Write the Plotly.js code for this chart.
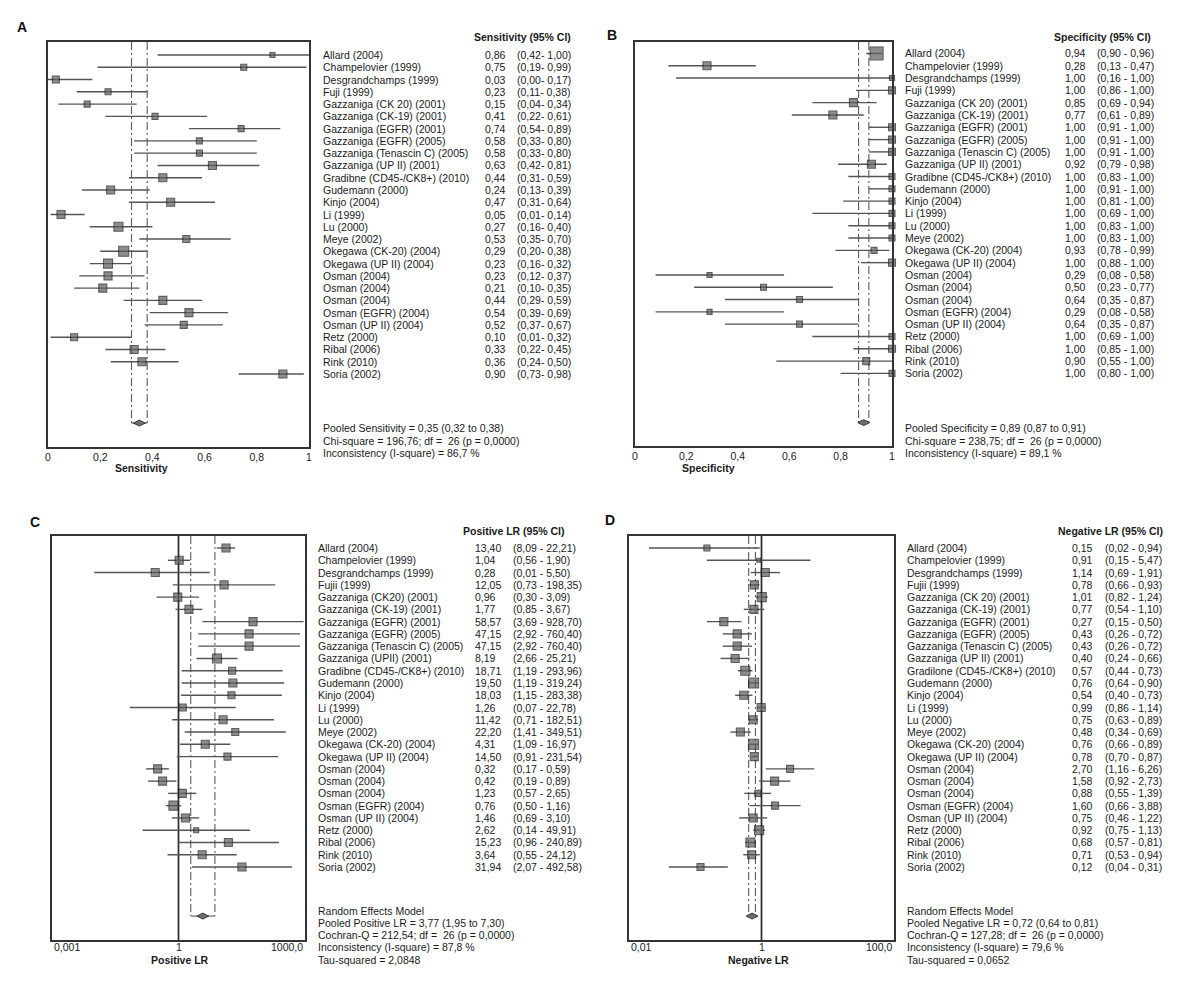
<!DOCTYPE html>
<html><head><meta charset="utf-8">
<script src="https://cdn.plot.ly/plotly-3.0.1.min.js"></script>
<style>html,body{margin:0;padding:0;background:#fff}#chart{width:1200px;height:998px}</style>
</head><body><div id="chart"></div>
<script>
// ---------- DATA ----------
const namesAB = ["Allard (2004)","Champelovier (1999)","Desgrandchamps (1999)","Fuji (1999)","Gazzaniga (CK 20) (2001)","Gazzaniga (CK-19) (2001)","Gazzaniga (EGFR) (2001)","Gazzaniga (EGFR) (2005)","Gazzaniga (Tenascin C) (2005)","Gazzaniga (UP II) (2001)","Gradibne (CD45-/CK8+) (2010)","Gudemann (2000)","Kinjo (2004)","Li (1999)","Lu (2000)","Meye (2002)","Okegawa (CK-20) (2004)","Okegawa (UP II) (2004)","Osman (2004)","Osman (2004)","Osman (2004)","Osman (EGFR) (2004)","Osman (UP II) (2004)","Retz (2000)","Ribal (2006)","Rink (2010)","Soria (2002)"];
const namesC = ["Allard (2004)","Champelovier (1999)","Desgrandchamps (1999)","Fujii (1999)","Gazzaniga (CK20) (2001)","Gazzaniga (CK-19) (2001)","Gazzaniga (EGFR) (2001)","Gazzaniga (EGFR) (2005)","Gazzaniga (Tenascin C) (2005)","Gazzaniga (UPII) (2001)","Gradibne (CD45-/CK8+) (2010)","Gudemann (2000)","Kinjo (2004)","Li (1999)","Lu (2000)","Meye (2002)","Okegawa (CK-20) (2004)","Okegawa (UP II) (2004)","Osman (2004)","Osman (2004)","Osman (2004)","Osman (EGFR) (2004)","Osman (UP II) (2004)","Retz (2000)","Ribal (2006)","Rink (2010)","Soria (2002)"];
const namesD = ["Allard (2004)","Champelovier (1999)","Desgrandchamps (1999)","Fujii (1999)","Gazzaniga (CK 20) (2001)","Gazzaniga (CK-19) (2001)","Gazzaniga (EGFR) (2001)","Gazzaniga (EGFR) (2005)","Gazzaniga (Tenascin C) (2005)","Gazzaniga (UP II) (2001)","Gradilone (CD45-/CK8+) (2010)","Gudemann (2000)","Kinjo (2004)","Li (1999)","Lu (2000)","Meye (2002)","Okegawa (CK-20) (2004)","Okegawa (UP II) (2004)","Osman (2004)","Osman (2004)","Osman (2004)","Osman (EGFR) (2004)","Osman (UP II) (2004)","Retz (2000)","Ribal (2006)","Rink (2010)","Soria (2002)"];

const sensEst = [0.86,0.75,0.03,0.23,0.15,0.41,0.74,0.58,0.58,0.63,0.44,0.24,0.47,0.05,0.27,0.53,0.29,0.23,0.23,0.21,0.44,0.54,0.52,0.10,0.33,0.36,0.90];
const sensLo  = [0.42,0.19,0.00,0.11,0.04,0.22,0.54,0.33,0.33,0.42,0.31,0.13,0.31,0.01,0.16,0.35,0.20,0.16,0.12,0.10,0.29,0.39,0.37,0.01,0.22,0.24,0.73];
const sensHi  = [1.00,0.99,0.17,0.38,0.34,0.61,0.89,0.80,0.80,0.81,0.59,0.39,0.64,0.14,0.40,0.70,0.38,0.32,0.37,0.35,0.59,0.69,0.67,0.32,0.45,0.50,0.98];
const sensWeight = [5,6,7,6,6,6,6,6,6,8,8,8,8,8,9,7,10,9,8,8,8,8,7,7,8,8,8];

const specEst = [0.94,0.28,1.00,1.00,0.85,0.77,1.00,1.00,1.00,0.92,1.00,1.00,1.00,1.00,1.00,1.00,0.93,1.00,0.29,0.50,0.64,0.29,0.64,1.00,1.00,0.90,1.00];
const specLo  = [0.90,0.13,0.16,0.86,0.69,0.61,0.91,0.91,0.91,0.79,0.83,0.91,0.81,0.69,0.83,0.83,0.78,0.88,0.08,0.23,0.35,0.08,0.35,0.69,0.85,0.55,0.80];
const specHi  = [0.96,0.47,1.00,1.00,0.94,0.89,1.00,1.00,1.00,0.98,1.00,1.00,1.00,1.00,1.00,1.00,0.99,1.00,0.58,0.77,0.87,0.58,0.87,1.00,1.00,1.00,1.00];
const specWeight = [13,8,5,7,8,8,7,7,7,8,6,6,6,6,6,6,6,7,5,6,6,5,6,6,7,7,6];

const plrEst = [13.40,1.04,0.28,12.05,0.96,1.77,58.57,47.15,47.15,8.19,18.71,19.50,18.03,1.26,11.42,22.20,4.31,14.50,0.32,0.42,1.23,0.76,1.46,2.62,15.23,3.64,31.94];
const plrLo  = [8.09,0.56,0.01,0.73,0.30,0.85,3.69,2.92,2.92,2.66,1.19,1.19,1.15,0.07,0.71,1.41,1.09,0.91,0.17,0.19,0.57,0.50,0.69,0.14,0.96,0.55,2.07];
const plrHi  = [22.21,1.90,5.50,198.35,3.09,3.67,928.70,760.40,760.40,25.21,293.96,319.24,283.38,22.78,182.51,349.51,16.97,231.54,0.59,0.89,2.65,1.16,3.10,49.91,240.89,24.12,492.58];
const plrWeight = [8,8,8,8,8,8,8,8,8,9,7,8,7,7,8,7,8,7,8,8,8,9,8,5,8,8,8];

const nlrEst = [0.15,0.91,1.14,0.78,1.01,0.77,0.27,0.43,0.43,0.40,0.57,0.76,0.54,0.99,0.75,0.48,0.76,0.78,2.70,1.58,0.88,1.60,0.75,0.92,0.68,0.71,0.12];
const nlrLo  = [0.02,0.15,0.69,0.66,0.82,0.54,0.15,0.26,0.26,0.24,0.44,0.64,0.40,0.86,0.63,0.34,0.66,0.70,1.16,0.92,0.55,0.66,0.46,0.75,0.57,0.53,0.04];
const nlrHi  = [0.94,5.47,1.91,0.93,1.24,1.10,0.50,0.72,0.72,0.66,0.73,0.90,0.73,1.14,0.89,0.69,0.89,0.87,6.26,2.73,1.39,3.88,1.22,1.13,0.81,0.94,0.31];
const nlrWeight = [6,4,8,8,9,8,8,8,8,8,9,10,8,8,8,8,10,8,7,8,6,7,8,9,9,8,7];

const pooledSens = [0.35,0.32,0.38];
const pooledSpec = [0.89,0.87,0.91];
const pooledPLR  = [3.77,1.95,7.30];
const pooledNLR  = [0.72,0.64,0.81];

const statsA = ["Pooled Sensitivity = 0,35 (0,32 to 0,38)","Chi-square = 196,76; df =  26 (p = 0,0000)","Inconsistency (I-square) = 86,7 %"];
const statsB = ["Pooled Specificity = 0,89 (0,87 to 0,91)","Chi-square = 238,75; df =  26 (p = 0,0000)","Inconsistency (I-square) = 89,1 %"];
const statsC = ["Random Effects Model","Pooled Positive LR = 3,77 (1,95 to 7,30)","Cochran-Q = 212,54; df =  26 (p = 0,0000)","Inconsistency (I-square) = 87,8 %","Tau-squared = 2,0848"];
const statsD = ["Random Effects Model","Pooled Negative LR = 0,72 (0,64 to 0,81)","Cochran-Q = 127,28; df =  26 (p = 0,0000)","Inconsistency (I-square) = 79,6 %","Tau-squared = 0,0652"];

const linTicks = [0,0.2,0.4,0.6,0.8,1];
const linTickText = ["0","0,2","0,4","0,6","0,8","1"];
const plrTicks = [0.001,1,1000]; const plrTickText = ["0,001","1","1000,0"];
const nlrTicks = [0.01,1,100];   const nlrTickText = ["0,01","1","100,0"];

// ---------- LAYOUT HELPERS ----------
const W = 1200, H = 998;
const px = x => x / W, py = y => 1 - y / H;
const FONT = "Liberation Sans, Arial, sans-serif";
const FS = 10.5;
const fmt = v => v.toFixed(2).replace('.', ',');

const panels = [
  {ax:'', names:namesAB, est:sensEst, lo:sensLo, hi:sensHi, w:sensWeight, pooled:pooledSens, log:false,
   range:[0,1], ticks:linTicks, tickText:linTickText, xd:[48,309], yd:[42,447], yr:[31.95,-1.06],
   nameX:321, valX:483, ciX:515, hdrX:472, hdrY:37, header:'Sensitivity (95% CI)', sep:'- ',
   stats:statsA, statsX:321, statsY:[428,441,453], title:'Sensitivity', titleX:141, titleY:468,
   letter:'A', letterX:22, letterY:27},
  {ax:'2', names:namesAB, est:specEst, lo:specLo, hi:specHi, w:specWeight, pooled:pooledSpec, log:false,
   range:[0,1], ticks:linTicks, tickText:linTickText, xd:[635,892], yd:[42,446], yr:[31.9,-0.93],
   nameX:903, valX:1063, ciX:1095, hdrX:1052, hdrY:37, header:'Specificity (95% CI)', sep:' - ',
   stats:statsB, statsX:903, statsY:[428,441,453], title:'Specificity', titleX:708, titleY:468,
   letter:'B', letterX:612, letterY:35},
  {ax:'3', names:namesC, est:plrEst, lo:plrLo, hi:plrHi, w:plrWeight, pooled:pooledPLR, log:true,
   range:[-3,3], ticks:plrTicks, tickText:plrTickText, xd:[52,305], yd:[536,940], yr:[31.95,-0.98],
   nameX:316, valX:473, ciX:511, hdrX:461, hdrY:531, header:'Positive LR (95% CI)', sep:' - ',
   stats:statsC, statsX:316, statsY:[911,923,935,947,960], title:'Positive LR', titleX:180, titleY:960,
   letter:'C', letterX:35, letterY:522},
  {ax:'4', names:namesD, est:nlrEst, lo:nlrLo, hi:nlrHi, w:nlrWeight, pooled:pooledNLR, log:true,
   range:[-2,2], ticks:nlrTicks, tickText:nlrTickText, xd:[629,894], yd:[536,940], yr:[31.95,-0.98],
   nameX:905, valX:1070, ciX:1103, hdrX:1056, hdrY:531, header:'Negative LR (95% CI)', sep:' - ',
   stats:statsD, statsX:905, statsY:[911,923,935,947,960], title:'Negative LR', titleX:759, titleY:960,
   letter:'D', letterX:610, letterY:520}
];

const traces = [], annotations = [], layout = {
  width: W, height: H, margin:{l:0,r:0,t:0,b:0}, showlegend:false,
  paper_bgcolor:'#fff', plot_bgcolor:'#fff', separators:', ',
  font:{family:FONT, size:FS, color:'#1a1a1a'}
};
const DIAMOND_ROW = 30;

panels.forEach(p => {
  const xa = 'x' + p.ax, ya = 'y' + p.ax;
  const rows = p.est.map((_, i) => i);
  const [pe, plo, phi] = p.pooled;
  const top = p.yr[1], bot = p.yr[0];

  layout['xaxis' + p.ax] = {
    domain:[px(p.xd[0]), px(p.xd[1])], anchor: ya, type: p.log ? 'log' : 'linear',
    range: p.range, showgrid:false, zeroline:false, showline:true, mirror:true,
    linecolor:'#333', linewidth:1.6, ticks:'', fixedrange:true,
    tickvals: p.ticks, ticktext: p.tickText, showticklabels: !p.log,
    tickfont:{family:FONT, size:FS, color:'#1a1a1a'}
  };
  layout['yaxis' + p.ax] = {
    domain:[py(p.yd[1]), py(p.yd[0])], anchor: xa, range: p.yr,
    showgrid:false, zeroline:false, showline:true, mirror:true,
    linecolor:'#333', linewidth:1.6, ticks:'', showticklabels:false, fixedrange:true
  };

  if (p.log) {
    traces.push({type:'scatter', mode:'lines', xaxis:xa, yaxis:ya, x:[1,1], y:[top,bot],
      line:{color:'#2a2a2a', width:1.7}, hoverinfo:'skip'});
  }
  // pooled CI dashed lines
  traces.push({type:'scatter', mode:'lines', xaxis:xa, yaxis:ya,
    x:[plo,plo,null,phi,phi], y:[top,DIAMOND_ROW,null,top,DIAMOND_ROW],
    line:{color:'#5a5a5a', width:1.1, dash:'8px,3px,2px,3px'}, hoverinfo:'skip'});
  traces.push({type:'scatter', mode:'lines', xaxis:xa, yaxis:ya,
    x:[plo,phi], y:[DIAMOND_ROW,DIAMOND_ROW],
    line:{color:'#5a5a5a', width:1.1}, hoverinfo:'skip'});
  // studies
  traces.push({type:'scatter', mode:'markers', xaxis:xa, yaxis:ya, x:p.est, y:rows,
    cliponaxis:false,
    error_x:{type:'data', symmetric:false,
      array:p.est.map((v,i)=>p.hi[i]-v), arrayminus:p.est.map((v,i)=>v-p.lo[i]),
      width:0, color:'#555', thickness:1.4},
    marker:{symbol:'square', size:p.w, color:'#5e5e5e', line:{color:'#1a1a1a', width:1.1}}});
  // pooled diamond
  traces.push({type:'scatter', mode:'markers', xaxis:xa, yaxis:ya, x:[pe], y:[DIAMOND_ROW],
    cliponaxis:false,
    marker:{symbol:'diamond-wide', size:8.5, color:'#6e6e6e', line:{color:'#3a3a3a', width:1}}});

  // study labels
  p.names.forEach((n, i) => {
    annotations.push({xref:'paper', yref:ya, x:px(p.nameX), y:i, text:n, showarrow:false, xanchor:'left', yanchor:'middle'});
    annotations.push({xref:'paper', yref:ya, x:px(p.valX), y:i, text:fmt(p.est[i]), showarrow:false, xanchor:'left', yanchor:'middle'});
    annotations.push({xref:'paper', yref:ya, x:px(p.ciX), y:i, text:'(' + fmt(p.lo[i]) + p.sep + fmt(p.hi[i]) + ')', showarrow:false, xanchor:'left', yanchor:'middle'});
  });
  annotations.push({xref:'paper', yref:'paper', x:px(p.hdrX), y:py(p.hdrY), text:'<b>' + p.header + '</b>', showarrow:false, xanchor:'left', yanchor:'middle'});
  p.stats.forEach((s, j) => {
    annotations.push({xref:'paper', yref:'paper', x:px(p.statsX), y:py(p.statsY[j]), text:s, showarrow:false, xanchor:'left', yanchor:'middle'});
  });
  annotations.push({xref:'paper', yref:'paper', x:px(p.titleX), y:py(p.titleY), text:'<b>' + p.title + '</b>', showarrow:false, xanchor:'center', yanchor:'middle'});
  annotations.push({xref:'paper', yref:'paper', x:px(p.letterX), y:py(p.letterY), text:'<b>' + p.letter + '</b>', showarrow:false, xanchor:'center', yanchor:'middle', font:{size:14, color:'#111'}});
  if (p.log) {
    const n = p.ticks.length;
    p.ticks.forEach((t, j) => {
      annotations.push({xref:xa, yref:'paper', x:Math.log10(t), y:py(p.yd[1] + 7), text:p.tickText[j], showarrow:false,
        xanchor: j === 0 ? 'left' : (j === n-1 ? 'right' : 'center'), yanchor:'middle'});
    });
  }
});
layout.annotations = annotations;
Plotly.newPlot('chart', traces, layout, {staticPlot:true, displayModeBar:false});
</script>
</body></html>
